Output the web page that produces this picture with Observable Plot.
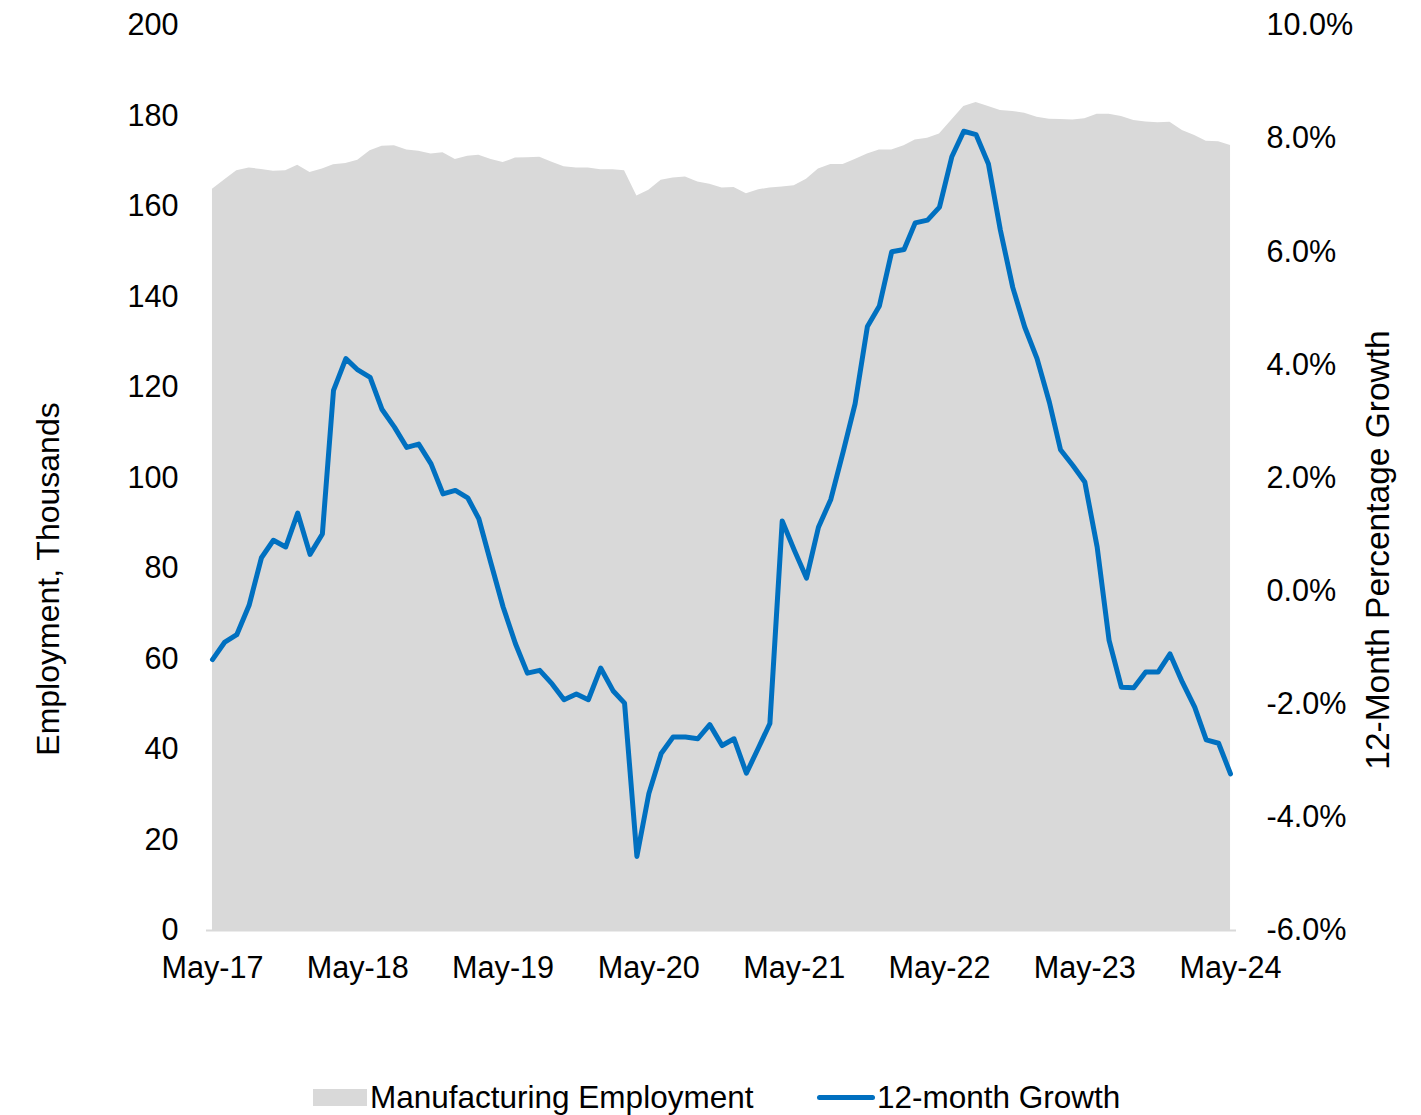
<!DOCTYPE html>
<html>
<head>
<meta charset="utf-8">
<script src="https://cdn.jsdelivr.net/npm/d3@7"></script>
<script src="https://cdn.jsdelivr.net/npm/@observablehq/plot@0.6"></script>
<style>
  html, body { margin: 0; padding: 0; background: #fff; }
  #wrap { position: relative; width: 1421px; height: 1115px; overflow: hidden; font-family: "Liberation Sans", Arial, sans-serif; color: #000; }
  .ytitle { position: absolute; white-space: nowrap; font-size: 32px; transform: translate(-50%, -50%) rotate(-90deg); line-height: 1; }
  .legend { position: absolute; top: 1080px; left: 0; width: 1421px; height: 35px; font-size: 31.5px; }
  .legend .item { position: absolute; top: 0; display: flex; align-items: center; height: 35px; white-space: nowrap; }
  .sw-area { display: inline-block; width: 54px; height: 17px; background: #d9d9d9; margin-right: 3px; }
  .sw-line { display: inline-block; width: 58px; height: 5px; background: #0070c0; border-radius: 3px; margin-right: 2px; }
</style>
</head>
<body>
<div id="wrap"></div>
<script>
// ---- Data (monthly, May-2017 .. May-2024) ----
const startMonth = "2017-05-01";
const endMonth = "2024-05-01";

// Manufacturing employment, thousands
const employment = [
  163.8, 165.9, 167.9, 168.5, 168.2, 167.8, 167.9, 169.1, 167.5, 168.3, 169.2, 169.5,
  170.2, 172.3, 173.3, 173.4, 172.5, 172.2, 171.6, 171.9, 170.4, 171.1, 171.3, 170.4,
  169.7, 170.7, 170.8, 170.9, 169.8, 168.8, 168.5, 168.5, 168.1, 168.1, 167.9, 162.3,
  163.6, 165.8, 166.3, 166.5, 165.4, 164.9, 164.1, 164.2, 162.8, 163.7, 164.1, 164.3,
  164.6, 166.0, 168.3, 169.3, 169.3, 170.4, 171.6, 172.5, 172.5, 173.4, 174.7, 175.1,
  176.0, 179.1, 182.1, 183.0, 182.1, 181.2, 181.0, 180.6, 179.7, 179.3, 179.2, 179.1,
  179.4, 180.4, 180.4, 179.9, 179.0, 178.7, 178.5, 178.6, 176.8, 175.7, 174.4, 174.3,
  173.5
];

// 12-month growth, percent
const growth = [
  -1.21, -0.90, -0.77, -0.25, 0.59, 0.90, 0.78, 1.38, 0.65, 1.01, 3.55, 4.11,
  3.91, 3.78, 3.21, 2.90, 2.54, 2.60, 2.25, 1.72, 1.78, 1.65, 1.28, 0.48,
  -0.28, -0.93, -1.45, -1.40, -1.64, -1.92, -1.82, -1.92, -1.36, -1.76, -1.98, -4.69,
  -3.58, -2.87, -2.58, -2.58, -2.61, -2.36, -2.73, -2.61, -3.22, -2.76, -2.34, 1.24,
  0.73, 0.23, 1.13, 1.62, 2.46, 3.31, 4.68, 5.04, 6.00, 6.04, 6.51, 6.56,
  6.79, 7.68, 8.13, 8.07, 7.55, 6.38, 5.37, 4.67, 4.11, 3.34, 2.50, 2.22,
  1.93, 0.78, -0.87, -1.70, -1.71, -1.43, -1.43, -1.11, -1.61, -2.05, -2.63, -2.69,
  -3.23
];

const xTickDates = ["2017-05-01","2018-05-01","2019-05-01","2020-05-01","2021-05-01","2022-05-01","2023-05-01","2024-05-01"];
const xTickLabels = ["May-17","May-18","May-19","May-20","May-21","May-22","May-23","May-24"];
const leftTicks = [0, 20, 40, 60, 80, 100, 120, 140, 160, 180, 200];
const rightTicks = [-6, -4, -2, 0, 2, 4, 6, 8, 10];
const rightTickLabels = ["-6.0%","-4.0%","-2.0%","0.0%","2.0%","4.0%","6.0%","8.0%","10.0%"];

const leftTitle = "Employment, Thousands";
const rightTitle = "12-Month Percentage Growth";
const legendArea = "Manufacturing Employment";
const legendLine = "12-month Growth";

// ---- Build table ----
const months = d3.utcMonth.range(new Date(startMonth), d3.utcMonth.offset(new Date(endMonth), 1));
const data = months.map((d, i) => ({date: d, emp: employment[i], g: growth[i]}));

// right axis (-6..10 %) mapped onto left scale (0..200)
const pctMin = -6, pctMax = 10, leftMax = 200;
const toLeft = p => (p - pctMin) / (pctMax - pctMin) * leftMax;

const tickDates = xTickDates.map(s => new Date(s));
const xLabel = new Map(tickDates.map((d, i) => [+d, xTickLabels[i]]));
const rLabel = new Map(rightTicks.map((p, i) => [toLeft(p), rightTickLabels[i]]));

const chart = Plot.plot({
  width: 1421,
  height: 1060,
  marginLeft: 206,
  marginRight: 185,
  marginTop: 25,
  marginBottom: 130,
  style: {fontFamily: "'Liberation Sans', Arial, sans-serif", fontSize: "30.6px", color: "#000", background: "transparent", overflow: "visible"},
  x: {type: "utc", domain: [new Date("2017-04-16"), new Date("2024-05-16")]},
  y: {domain: [0, leftMax]},
  marks: [
    Plot.areaY(data, {x: "date", y: "emp", fill: "#d9d9d9"}),
    Plot.ruleY([0], {stroke: "#d9d9d9", strokeWidth: 2}),
    Plot.lineY(data, {x: "date", y: d => toLeft(d.g), stroke: "#0070c0", strokeWidth: 5, strokeLinejoin: "round", strokeLinecap: "round"}),
    Plot.axisX({ticks: tickDates, tickFormat: d => xLabel.get(+d), tickSize: 0, tickPadding: 26, label: null}),
    Plot.axisY({anchor: "left", ticks: leftTicks, tickSize: 0, tickPadding: 28, label: null}),
    Plot.axisY({anchor: "right", ticks: rightTicks.map(toLeft), tickFormat: v => rLabel.get(v), tickSize: 0, tickPadding: 30, label: null})
  ]
});

const wrap = document.getElementById("wrap");
wrap.appendChild(chart);
chart.style.position = "absolute";
chart.style.left = "0px";
chart.style.top = "0px";

const lt = document.createElement("div");
lt.className = "ytitle"; lt.textContent = leftTitle;
lt.style.left = "48px"; lt.style.top = "579px";
wrap.appendChild(lt);

const rt = document.createElement("div");
rt.className = "ytitle"; rt.textContent = rightTitle;
rt.style.left = "1378px"; rt.style.top = "550px"; rt.style.fontSize = "33.5px";
wrap.appendChild(rt);

const legend = document.createElement("div");
legend.className = "legend";
legend.innerHTML = `
  <div class="item" style="left:313px"><span class="sw-area"></span><span>${legendArea}</span></div>
  <div class="item" style="left:817px"><span class="sw-line"></span><span>${legendLine}</span></div>`;
wrap.appendChild(legend);
</script>
</body>
</html>
